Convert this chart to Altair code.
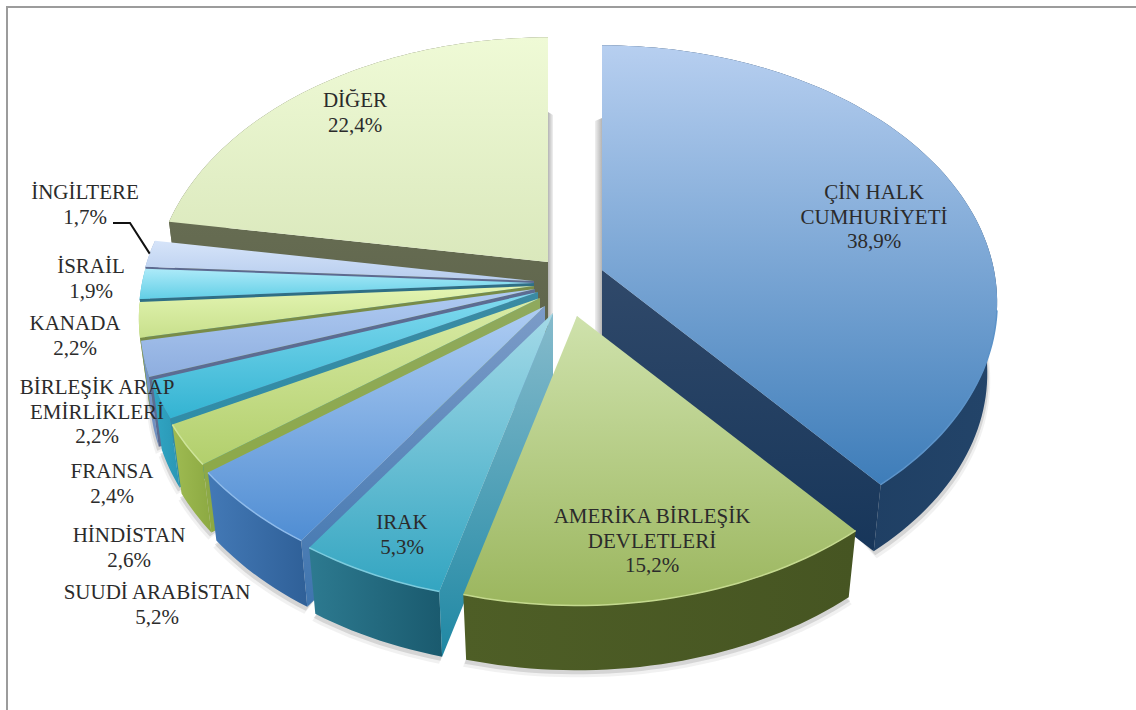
import math
import altair as alt
import pandas as pd

# Shares, clockwise from twelve o'clock
countries = ["ÇİN HALK CUMHURİYETİ", "AMERİKA BİRLEŞİK DEVLETLERİ", "IRAK", "SUUDİ ARABİSTAN",
             "HİNDİSTAN", "FRANSA", "BİRLEŞİK ARAP EMİRLİKLERİ", "KANADA", "İSRAİL", "İNGİLTERE", "DİĞER"]
shares = [38.9, 15.2, 5.3, 5.2, 2.6, 2.4, 2.2, 2.2, 1.9, 1.7, 22.4]

# Text lines and their centres, one entry per line
label_lines = [
    ["ÇİN HALK", "CUMHURİYETİ", "38,9%"], ["AMERİKA BİRLEŞİK", "DEVLETLERİ", "15,2%"],
    ["IRAK", "5,3%"], ["SUUDİ ARABİSTAN", "5,2%"], ["HİNDİSTAN", "2,6%"], ["FRANSA", "2,4%"],
    ["BİRLEŞİK ARAP", "EMİRLİKLERİ", "2,2%"], ["KANADA", "2,2%"], ["İSRAİL", "1,9%"],
    ["İNGİLTERE", "1,7%"], ["DİĞER", "22,4%"],
]
label_x = [874, 652, 402, 157, 129, 112, 97, 75, 91, 85, 355]
label_y = [193, 517, 523, 593, 536, 472, 388, 324, 267, 193, 101]
line_gap = 24.6

# Pie geometry: disc radii, perspective strength, thickness
RX, RY, K = 392, 253, 0.126
BOTTOM_SCALE, DEPTH = 0.975, 72

# Where each slice's tip sits once pulled out of the pie
tips = [(602, 270), (577, 316), (553, 313), (545, 306), (540, 298), (538, 292),
        (535, 289), (534, 286), (534, 283), (534, 281), (548, 262)]

# (top light, top dark, wall left, wall right, cut face top, cut face bottom)
palette = [
    ("#B7CFF0", "#3E7DB9", "#17365A", "#234469", "#30496A", "#17365A"),
    ("#CFE2AC", "#9BB65E", "#4E5E26", "#465522", "#4E5E26", "#465522"),
    ("#A4DAE8", "#33A5C1", "#2D7A90", "#1A5A6E", "#86BBCC", "#1F88A4"),
    ("#AFCDF3", "#4F8DD3", "#4379B6", "#2F6098", "#7C9CC8", "#3E74AE"),
    ("#D9EBA6", "#B2CF6C", "#9FBB52", "#8CA942", "#8FA95E", "#8CA942"),
    ("#82DBF0", "#33B3D2", "#31A6C4", "#2A97B5", "#3B8AA2", "#2A8FAB"),
    ("#B0CBF2", "#8EAEDF", "#7597C9", "#6F8FC0", "#5C6C92", "#5C6C92"),
    ("#E4F5B3", "#C8E08C", "#A8C46A", "#A0BC60", "#788C48", "#788C48"),
    ("#ADEAF9", "#62CFE6", "#4AB5CE", "#48AFC8", "#2F6F85", "#2F6F85"),
    ("#D6E4F9", "#B7CDEE", "#93ABD0", "#8EA6CC", "#5D6A90", "#5D6A90"),
    ("#EFFAD6", "#DAE8BC", "#666C52", "#62684F", "#666C52", "#5F654C"),
]

# Painted from the back of the pie to the front
paint_order = [10, 9, 8, 7, 6, 5, 4, 3, 2, 0, 1]
# Slices whose front rim catches a highlight
rim_lit = {0: "#5C93C9", 1: "#C4D98E", 2: "#7CCBDD", 3: "#8FBBEB", 4: "#CFE59A"}


def rim(tip, angle, bottom=False):
    u, v = math.sin(angle), -math.cos(angle)
    s = 1 / (1 - K * v)
    x, y = RX * u * s, RY * v * s
    if bottom:
        return [tip[0] + x * BOTTOM_SCALE, tip[1] + y * BOTTOM_SCALE + DEPTH]
    return [tip[0] + x, tip[1] + y]


def arc_points(tip, start, end, bottom=False):
    steps = max(8, int((end - start) * 40))
    return [rim(tip, start + (end - start) * i / steps, bottom) for i in range(steps + 1)]


def polygon(points):
    closed = [list(p) for p in points] + [list(points[0])]
    return {"type": "Feature", "geometry": {"type": "Polygon", "coordinates": [closed]}, "properties": {}}


def polyline(points):
    return {"type": "Feature", "geometry": {"type": "LineString", "coordinates": [list(p) for p in points]},
            "properties": {}}


def gradient(first, second, horizontal=False):
    return alt.LinearGradient(
        gradient="linear",
        stops=[alt.GradientStop(color=first, offset=0), alt.GradientStop(color=second, offset=1)],
        x1=0, y1=0, x2=1 if horizontal else 0, y2=0 if horizontal else 1,
    )


PROJECTION = dict(type="identity", scale=1, translate=[0, 0])


def shape(feature, **mark):
    return alt.Chart(alt.Data(values=[feature])).mark_geoshape(**mark).project(**PROJECTION)


# Angular extent of every slice, from the shares
bounds = [0.0]
for value in shares:
    bounds.append(bounds[-1] + value / sum(shares) * 2 * math.pi)

layers = []

# Page frame along the top and left
layers.append(shape(polyline([(1136, 7), (7, 7), (7, 710)]), filled=False, stroke="#9C9C9C", strokeWidth=2))

# Soft shadows: beside the two inner upright edges, then under the walls
for tip, top, side in ((tips[0], 118, -7), (tips[10], 112, 5)):
    layers.append(shape(
        polygon([(tip[0], top), (tip[0] + side, top + 3), (tip[0] + side, 345), (tip[0], 345)]),
        fill=gradient("#B4B4B4", "#F0F0F0", True) if side > 0 else gradient("#F0F0F0", "#B4B4B4", True),
    ))
for i in paint_order:
    if i == 10:
        continue
    under = arc_points(tips[i], bounds[i], bounds[i + 1], True)
    for dx, dy, alpha in ((-3, 7, 0.12), (-1.5, 4, 0.28)):
        moved = [(x + dx if x < 600 else x + abs(dx), y + dy) for x, y in under]
        layers.append(shape(polygon(moved + [tips[i]]), fill="#8C8C8C", opacity=alpha))

for i in paint_order:
    tip, a0, a1 = tips[i], bounds[i], bounds[i + 1]
    light, dark, wall_l, wall_r, face_t, face_b = palette[i]

    # Outer wall
    wall = arc_points(tip, a0, a1) + arc_points(tip, a0, a1, True)[::-1]
    layers.append(shape(polygon(wall), fill=gradient(wall_l, wall_r, True)))

    # Cut face, only where it turns towards the viewer
    tip_low = [tip[0], tip[1] + DEPTH]
    visible = [a for a, seen in ((a0, a0 > math.pi), (a1, a1 < math.pi)) if seen]
    for angle in visible:
        face = [tip, rim(tip, angle), rim(tip, angle, True), tip_low]
        layers.append(shape(polygon(face), fill=gradient(face_t, face_b)))

    # Top surface
    top = [tip] + arc_points(tip, a0, a1)
    layers.append(shape(polygon(top), fill=gradient(light, dark)))

    if i in rim_lit:
        lit_from = max(a0, math.pi * 0.55)
        layers.append(shape(polyline(arc_points(tip, lit_from, a1)), filled=False,
                            stroke=rim_lit[i], strokeWidth=1.5))

# Leader from the İNGİLTERE label down to its slice
leader_end = rim(tips[9], (bounds[9] + bounds[10]) / 2)
layers.append(shape(polyline([(113, 223), (130, 223), leader_end]),
                    filled=False, stroke="#111111", strokeWidth=2))

# Labels
rows = []
for lines, cx, cy in zip(label_lines, label_x, label_y):
    for n, line in enumerate(lines):
        rows.append({"text": line, "x": cx, "y": cy + n * line_gap})
labels = alt.Chart(pd.DataFrame(rows)).mark_text(
    font="Liberation Serif", fontSize=21, color="#2B2B2B", align="center", baseline="middle",
).encode(longitude="x:Q", latitude="y:Q", text="text:N").project(**PROJECTION)
layers.append(labels)

chart = alt.layer(*layers).properties(
    width=1136, height=710, padding=0, background="white",
    autosize=alt.AutoSizeParams(type="none"),
).configure_view(stroke=None)

chart.save("out.html", embed_options={"renderer": "svg", "actions": False})
